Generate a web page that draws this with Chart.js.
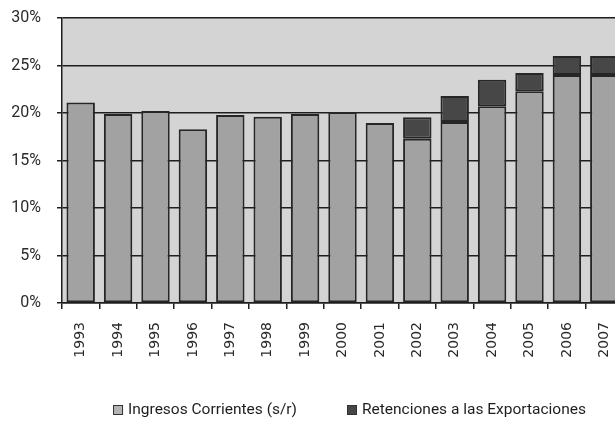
<!DOCTYPE html>
<html>
<head>
<meta charset="utf-8">
<script src="https://cdn.jsdelivr.net/npm/chart.js@4/dist/chart.umd.min.js"></script>
<style>
  html, body { margin: 0; padding: 0; background: #ffffff; overflow: hidden; }
  #wrap { position: relative; width: 623px; height: 423px; }
</style>
</head>
<body>
<div id="wrap"><canvas id="c"></canvas></div>
<script>
const years = ['1993','1994','1995','1996','1997','1998','1999','2000','2001','2002','2003','2004','2005','2006','2007'];
const ingresosCorrientes = [21.1, 19.9, 20.2, 18.3, 19.8, 19.6, 19.9, 20.1, 18.95, 17.3, 19.05, 20.7, 22.3, 24.0, 24.0];
const retenciones = [null, null, null, null, null, null, null, null, null, 2.25, 2.75, 2.8, 1.9, 2.0, 2.0];
const seriesNames = ['Ingresos Corrientes (s/r)', 'Retenciones a las Exportaciones'];
const yTicks = [0, 5, 10, 15, 20, 25, 30];

const narrowFamily = 'Roboto, "Liberation Sans", sans-serif';

const plotBg = {
  id: 'plotBg',
  beforeDraw(chart) {
    const a = chart.chartArea, ctx = chart.ctx;
    ctx.save();
    ctx.fillStyle = '#d4d4d4';
    ctx.fillRect(a.left, a.top, a.right - a.left, a.bottom - a.top);
    ctx.restore();
  }
};

const customLegend = {
  id: 'customLegend',
  afterDraw(chart) {
    const ctx = chart.ctx;
    ctx.save();
    ctx.font = '15.5px ' + narrowFamily;
    const box = 10, gapText = 5, gapItem = 50;
    const items = chart.data.datasets.map(ds => ({
      label: ds.label, fill: ds.legendFill || ds.backgroundColor, w: ctx.measureText(ds.label).width
    }));
    let total = 0;
    items.forEach((it, i) => { total += box + gapText + it.w + (i ? gapItem : 0); });
    const a = chart.chartArea;
    let x = (a.left + a.right) / 2 - total / 2 + 7;
    const yc = 410;
    items.forEach((it) => {
      ctx.fillStyle = it.fill;
      ctx.fillRect(x, yc - box / 2, box, box);
      ctx.strokeStyle = '#333';
      ctx.lineWidth = 1;
      ctx.strokeRect(x + 0.5, yc - box / 2 + 0.5, box - 1, box - 1);
      ctx.fillStyle = '#1e1e1e';
      ctx.textBaseline = 'middle';
      ctx.textAlign = 'left';
      ctx.fillText(it.label, x + box + gapText, yc);
      x += box + gapText + it.w + gapItem;
    });
    ctx.restore();
  }
};

new Chart(document.getElementById('c'), {
  type: 'bar',
  data: {
    labels: years,
    datasets: [
      {
        label: seriesNames[0],
        data: ingresosCorrientes,
        backgroundColor: '#a2a2a2',
        legendFill: '#b4b4b4',
        borderColor: '#262626',
        borderWidth: 2,
        borderSkipped: false,
        barPercentage: 0.76,
        categoryPercentage: 1.0,
        stack: 's'
      },
      {
        label: seriesNames[1],
        data: retenciones,
        backgroundColor: '#474747',
        borderColor: '#262626',
        borderWidth: 2,
        borderSkipped: false,
        barPercentage: 0.76,
        categoryPercentage: 1.0,
        stack: 's'
      }
    ]
  },
  options: {
    responsive: true,
    maintainAspectRatio: false,
    animation: false,
    layout: { padding: { top: 18, right: 0, bottom: 0, left: 0 } },
    plugins: {
      legend: { display: false },
      tooltip: { enabled: false }
    },
    scales: {
      x: {
        stacked: true,
        offset: true,
        grid: {
          offset: true,
          drawOnChartArea: false,
          drawTicks: true,
          tickLength: 6,
          color: '#1e1e1e',
          lineWidth: 1.5
        },
        border: { display: true, color: '#1e1e1e', width: 1.5 },
        ticks: {
          minRotation: 90,
          maxRotation: 90,
          padding: 13,
          color: '#2a2a2a',
          font: { family: '"DejaVu Sans", sans-serif', size: 14 }
        },
        afterFit(scale) { scale.height = 120; scale.paddingLeft = 0; scale.paddingRight = 0; }
      },
      y: {
        stacked: true,
        min: 0,
        max: 30,
        afterBuildTicks(scale) { scale.ticks = yTicks.map(v => ({ value: v })); },
        grid: {
          color: '#1e1e1e',
          lineWidth: 1.5,
          drawTicks: true,
          tickLength: 5
        },
        border: { display: true, color: '#1e1e1e', width: 1.5 },
        ticks: {
          padding: 16,
          color: '#2a2a2a',
          font: { family: narrowFamily, size: 16 },
          callback: v => v + '%'
        },
        afterFit(scale) { scale.width = 62; scale.paddingTop = 0; scale.paddingBottom = 0; }
      }
    }
  },
  plugins: [plotBg, customLegend]
});
</script>
</body>
</html>
